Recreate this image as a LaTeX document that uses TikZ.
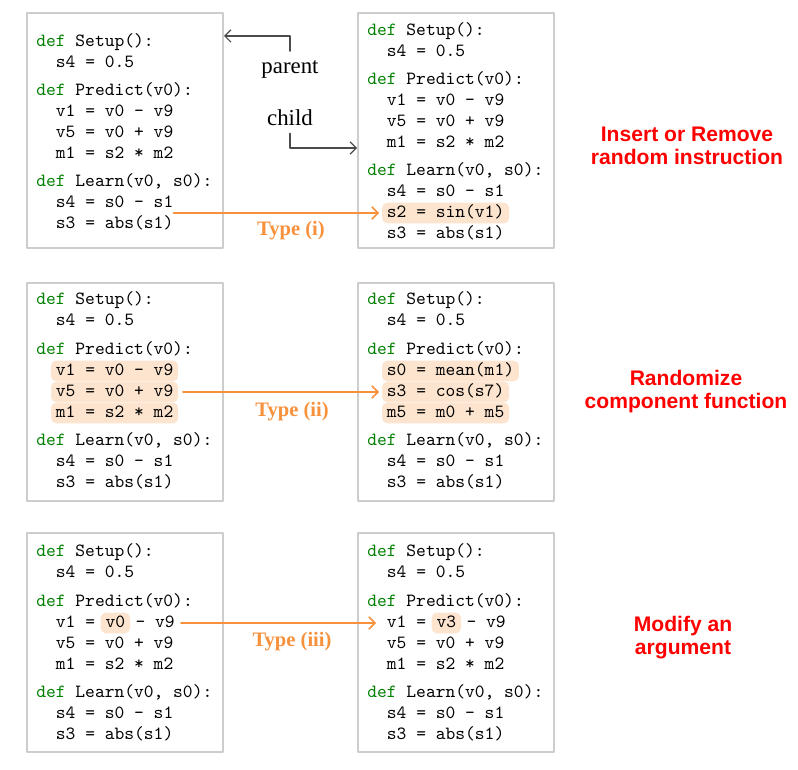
\documentclass[tikz,border=0pt]{standalone}
\usepackage{fontspec}
\newfontfamily\labelfont{Liberation Serif}
\newfontfamily\notefont{Liberation Sans}
\usetikzlibrary{positioning,fit,backgrounds,arrows.meta}
\definecolor{defgreen}{RGB}{0,128,0}
\definecolor{mutorange}{RGB}{247,145,60}
\definecolor{hlfill}{RGB}{252,228,206}
\definecolor{boxgray}{RGB}{205,205,205}
\definecolor{arrgray}{RGB}{75,75,75}
\newcommand{\kdef}{\textcolor{defgreen}{def}\ }
\tikzset{
  code/.style={anchor=west,inner sep=0pt,text height=7.5pt,text depth=2.5pt,font=\fontsize{10.6}{12}\ttfamily},
  prog/.style={draw=boxgray,line width=0.8pt,minimum width=3.92cm,inner sep=0pt},
  hl/.style={fill=hlfill,rounded corners=3pt,inner xsep=2.6pt,inner ysep=0.7pt},
  oarrow/.style={->,draw=mutorange,line width=0.9pt},
  garrow/.style={->,draw=arrgray,line width=0.7pt},
  typelbl/.style={text=mutorange,font=\fontsize{11.7}{14}\labelfont\bfseries,inner sep=0pt},
  rolelbl/.style={font=\fontsize{13}{15}\labelfont,inner sep=4pt},
  mutlbl/.style={text=red,align=center,font=\fontsize{12}{13.1}\notefont\bfseries,inner sep=0pt}
}
\begin{document}
\begin{tikzpicture}[x=0.02cm,y=-0.02cm,>={Straight Barb[length=3.5pt,width=7pt]},line cap=round,line join=round]
  \useasboundingbox (0,0) rectangle (798,770);

  % program boxes
  \node[prog,minimum height=4.7cm] (iPar) at (125,130.5) {};
  \node[prog,minimum height=4.7cm] (iChi) at (456,130.5) {};
  \node[prog,minimum height=4.36cm] (iiPar) at (125,392) {};
  \node[prog,minimum height=4.36cm] (iiChi) at (456,392) {};
  \node[prog,minimum height=4.38cm] (iiiPar) at (125,642.5) {};
  \node[prog,minimum height=4.38cm] (iiiChi) at (456,642.5) {};

  % type (i): parent
  \node[code] (iP1) at (36,42) {\kdef Setup():};
  \node[code] (iP2) at (55.6,63) {s4 = 0.5};
  \node[code] (iP3) at (36,91) {\kdef Predict(v0):};
  \node[code] (iP4) at (55.6,112) {v1 = v0 - v9};
  \node[code] (iP5) at (55.6,133) {v5 = v0 + v9};
  \node[code] (iP6) at (55.6,154) {m1 = s2 * m2};
  \node[code] (iP7) at (36,182) {\kdef Learn(v0, s0):};
  \node[code] (iP8) at (55.6,203) {s4 = s0 - s1};
  \node[code] (iP9) at (55.6,224) {s3 = abs(s1)};
  % type (i): child
  \node[code] (iC1) at (367,31) {\kdef Setup():};
  \node[code] (iC2) at (386.6,52) {s4 = 0.5};
  \node[code] (iC3) at (367,80) {\kdef Predict(v0):};
  \node[code] (iC4) at (386.6,101) {v1 = v0 - v9};
  \node[code] (iC5) at (386.6,122) {v5 = v0 + v9};
  \node[code] (iC6) at (386.6,143) {m1 = s2 * m2};
  \node[code] (iC7) at (367,171) {\kdef Learn(v0, s0):};
  \node[code] (iC8) at (386.6,192) {s4 = s0 - s1};
  \node[code] (iC9) at (386.6,213) {s2 = sin(v1)};
  \node[code] (iC10) at (386.6,234) {s3 = abs(s1)};

  % type (ii): parent
  \node[code] (iiP1) at (36,300) {\kdef Setup():};
  \node[code] (iiP2) at (55.6,321) {s4 = 0.5};
  \node[code] (iiP3) at (36,350) {\kdef Predict(v0):};
  \node[code] (iiP4) at (55.6,371) {v1 = v0 - v9};
  \node[code] (iiP5) at (55.6,392) {v5 = v0 + v9};
  \node[code] (iiP6) at (55.6,413) {m1 = s2 * m2};
  \node[code] (iiP7) at (36,441) {\kdef Learn(v0, s0):};
  \node[code] (iiP8) at (55.6,462) {s4 = s0 - s1};
  \node[code] (iiP9) at (55.6,483) {s3 = abs(s1)};
  % type (ii): child
  \node[code] (iiC1) at (367,300) {\kdef Setup():};
  \node[code] (iiC2) at (386.6,321) {s4 = 0.5};
  \node[code] (iiC3) at (367,350) {\kdef Predict(v0):};
  \node[code] (iiC4) at (386.6,371) {s0 = mean(m1)};
  \node[code] (iiC5) at (386.6,392) {s3 = cos(s7)};
  \node[code] (iiC6) at (386.6,413) {m5 = m0 + m5};
  \node[code] (iiC7) at (367,441) {\kdef Learn(v0, s0):};
  \node[code] (iiC8) at (386.6,462) {s4 = s0 - s1};
  \node[code] (iiC9) at (386.6,483) {s3 = abs(s1)};

  % type (iii): parent
  \node[code] (iiiP1) at (36,552) {\kdef Setup():};
  \node[code] (iiiP2) at (55.6,573) {s4 = 0.5};
  \node[code] (iiiP3) at (36,602) {\kdef Predict(v0):};
  \node[code] (iiiP4a) at (55.6,623) {v1 =\ \null};
  \node[code,right=0pt of iiiP4a] (iiiArgP) {v0};
  \node[code,right=0pt of iiiArgP] (iiiP4b) {\ - v9};
  \node[code] (iiiP5) at (55.6,644) {v5 = v0 + v9};
  \node[code] (iiiP6) at (55.6,665) {m1 = s2 * m2};
  \node[code] (iiiP7) at (36,693) {\kdef Learn(v0, s0):};
  \node[code] (iiiP8) at (55.6,714) {s4 = s0 - s1};
  \node[code] (iiiP9) at (55.6,735) {s3 = abs(s1)};
  % type (iii): child
  \node[code] (iiiC1) at (367,552) {\kdef Setup():};
  \node[code] (iiiC2) at (386.6,573) {s4 = 0.5};
  \node[code] (iiiC3) at (367,602) {\kdef Predict(v0):};
  \node[code] (iiiC4a) at (386.6,623) {v1 =\ \null};
  \node[code,right=0pt of iiiC4a] (iiiArgC) {v3};
  \node[code,right=0pt of iiiArgC] (iiiC4b) {\ - v9};
  \node[code] (iiiC5) at (386.6,644) {v5 = v0 + v9};
  \node[code] (iiiC6) at (386.6,665) {m1 = s2 * m2};
  \node[code] (iiiC7) at (367,693) {\kdef Learn(v0, s0):};
  \node[code] (iiiC8) at (386.6,714) {s4 = s0 - s1};
  \node[code] (iiiC9) at (386.6,735) {s3 = abs(s1)};

  % highlighted changes
  \begin{scope}[on background layer]
    \node[hl,fit=(iC9)] (iHl) {};
    \node[hl,fit=(iiP4)] (iiHlP1) {};
    \node[hl,fit=(iiP5)] (iiHlP2) {};
    \node[hl,fit=(iiP6)] (iiHlP3) {};
    \node[hl,fit=(iiC4)] (iiHlC1) {};
    \node[hl,fit=(iiC5)] (iiHlC2) {};
    \node[hl,fit=(iiC6)] (iiHlC3) {};
    \node[hl,fit=(iiiArgP)] (iiiHlP) {};
    \node[hl,fit=(iiiArgC)] (iiiHlC) {};
  \end{scope}

  % mutation arrows
  \draw[oarrow,shorten >=1.5pt] (iP8.east |- iHl.west) -- (iHl.west);
  \draw[oarrow,shorten <=2.5pt,shorten >=1.5pt] (iiHlP2.east) -- (iiHlC2.west);
  \draw[oarrow,shorten <=3.4pt,shorten >=6pt] (iiiP4b.east) -- (iiiC4a.west);
  \node[typelbl] (iType) at (291,231) {Type (i)};
  \node[typelbl] (iiType) at (292,412) {Type (ii)};
  \node[typelbl] (iiiType) at (292,642) {Type (iii)};

  % parent / child
  \node[rolelbl,inner ysep=5.5pt] (parent) at (290,70) {parent};
  \node[rolelbl] (child) at (290,118) {child};
  \coordinate (parTip) at (224,36);
  \coordinate (chiTip) at (357,148);
  \draw[garrow] (parent.north) |- (parTip);
  \draw[garrow] (child.south) |- (chiTip);

  % mutation kinds
  \node[mutlbl] (insRem) at (687,146) {Insert or Remove\\random instruction};
  \node[mutlbl] (randFn) at (686,392) {Randomize\\component function};
  \node[mutlbl] (modArg) at (683,638) {Modify an\\argument};
\end{tikzpicture}
\end{document}
